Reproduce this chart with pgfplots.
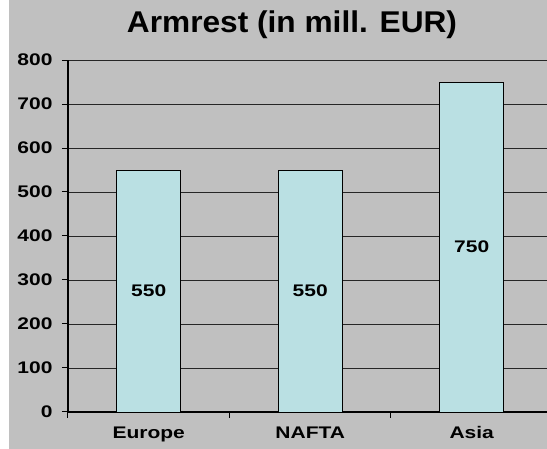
\documentclass[border=0pt]{standalone}
\usepackage{fontspec}
\setmainfont{Liberation Sans}[FakeStretch=1.25]
\newfontfamily\titlefont{Liberation Sans}[FakeStretch=1.055]
\usepackage{pgfplots}
\pgfplotsset{compat=1.18}
\definecolor{bg}{HTML}{C0C0C0}
\definecolor{barc}{HTML}{BAE0E3}
\begin{document}
\begin{tikzpicture}[x=1pt,y=1pt]
\useasboundingbox (0,0) rectangle (547,449);
\fill[white] (-5,-5) rectangle (555,455);
\fill[bg] (9,-5) rectangle (555,455);
\node[font=\titlefont\bfseries\fontsize{30}{36}\selectfont, inner sep=0pt] at (292,424) {Armrest (in mill. EUR)};
\begin{axis}[at={(68pt,37pt)}, anchor=south west, scale only axis,
  width=479pt, height=352pt,
  xmin=-0.5, xmax=2.466, ymin=0, ymax=800,
  axis x line=bottom, axis y line=left,
  axis line style={-, line width=1.2pt, black},
  tick align=outside,
  major tick length=6pt,
  /pgf/number format/assume math mode=true,
  ticklabel style={font=\bfseries\fontsize{16.8}{20}\selectfont},
  yticklabel style={xshift=-6pt},
  xtick={-0.5,0.5,1.5}, xticklabels={},
  tick style={line width=1pt, black},
  extra x ticks={0,1,2},
  extra x tick labels={Europe,NAFTA,Asia},
  extra x tick style={major tick length=0pt, grid=none,
    xticklabel style={yshift=-11pt}},
  ytick={0,100,...,800},
  ymajorgrids,
  grid style={line width=0.8pt, black!85},
  clip=false,
]
\addplot[ybar, bar width=64pt, bar shift=0pt, fill=barc, draw=black, line width=0.8pt]
  coordinates {(0,550) (1,550) (2,750)};
\addplot[draw=none, mark=none, nodes near coords, point meta=explicit symbolic,
  every node near coord/.style={anchor=center, text=black, font=\bfseries\fontsize{16.8}{20}\selectfont}]
  coordinates {(0,275) [550] (1,275) [550] (2,375) [750]};
\end{axis}
\end{tikzpicture}
\end{document}
